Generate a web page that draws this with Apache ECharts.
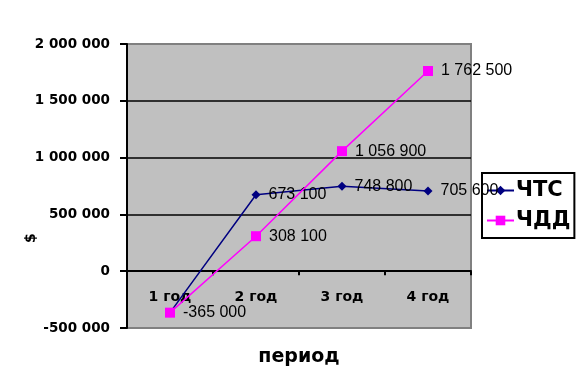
<!DOCTYPE html>
<html>
<head>
<meta charset="utf-8">
<script src="https://cdn.jsdelivr.net/npm/echarts@6/dist/echarts.min.js"></script>
<style>html,body{margin:0;padding:0;background:#fff}#c{width:576px;height:375px}</style>
</head>
<body>
<div id="c"></div>
<script>
const categories = ['1 год', '2 год', '3 год', '4 год'];
const chtsValues = [-365000, 673100, 748800, 705600];
const chddValues = [-365000, 308100, 1056900, 1762500];
const seriesNames = ['ЧТС', 'ЧДД'];
const yTicks = { min: -500000, max: 2000000, interval: 500000 };

function fmt(v) {
  const s = Math.abs(v).toString().replace(/\B(?=(\d{3})+(?!\d))/g, ' ');
  return (v < 0 ? '-' : '') + s;
}

const gridTop = 44, gridBottom = 47, H = 375;
const plotH = H - gridTop - gridBottom;
const zeroOffset = -plotH * (0 - yTicks.min) / (yTicks.max - yTicks.min);

// hide a duplicate label where both series share the same point
const chtsData = chtsValues.map((v, i) => v === chddValues[i] ? { value: v, label: { show: false } } : v);

const chart = echarts.init(document.getElementById('c'), null, { renderer: 'canvas' });
const labelStyle = {
  show: true, position: 'right', distance: 8,
  formatter: p => fmt(p.value),
  color: '#000', fontFamily: 'Liberation Sans, Arial', fontSize: 16
};
chart.setOption({
  animation: false,
  backgroundColor: '#fff',
  grid: { left: 127, top: gridTop, right: 105, bottom: gridBottom, show: true,
    containLabel: false, outerBoundsMode: 'none',
    backgroundColor: '#C0C0C0', borderColor: '#808080', borderWidth: 2 },
  xAxis: {
    type: 'category', data: categories, boundaryGap: true,
    position: 'bottom', offset: zeroOffset,
    name: 'период', nameLocation: 'middle', nameGap: 76,
    nameTextStyle: { fontFamily: 'DejaVu Sans', fontWeight: 'bold', fontSize: 19, color: '#000' },
    axisLine: { onZero: false, lineStyle: { color: '#000', width: 2 } },
    axisTick: { show: true, length: 4, inside: false, lineStyle: { color: '#000', width: 2 } },
    axisLabel: { margin: 19, fontFamily: 'DejaVu Sans', fontWeight: 'bold', fontSize: 14, color: '#000' }
  },
  yAxis: {
    type: 'value', min: yTicks.min, max: yTicks.max, interval: yTicks.interval,
    axisLine: { show: true, onZero: false, lineStyle: { color: '#000', width: 2 } },
    axisTick: { show: true, length: 7, lineStyle: { color: '#000', width: 2 } },
    axisLabel: { margin: 17, formatter: v => fmt(v), fontFamily: 'DejaVu Sans', fontWeight: 'bold', fontSize: 13.5, color: '#000' },
    splitLine: { show: true, showMinLine: false, showMaxLine: false, lineStyle: { color: '#000', width: 1.5 } }
  },
  legend: {
    orient: 'vertical', left: 482, top: 173, width: 88, z: 1,
    padding: [7, 4, 7, 4], itemGap: 9, itemWidth: 27, itemHeight: 12,
    borderColor: '#000', borderWidth: 2, backgroundColor: 'transparent',
    textStyle: { fontFamily: 'DejaVu Sans', fontWeight: 'bold', fontSize: 21, color: '#000', padding: [0, 0, 0, -3] },
    data: seriesNames
  },
  graphic: [{
    type: 'text', x: 24, y: 243, rotation: Math.PI / 2,
    style: { text: '$', font: 'bold 14px DejaVu Sans', fill: '#000' }
  }],
  series: [
    { name: seriesNames[0], type: 'line', data: chtsData,
      symbol: 'diamond', symbolSize: 9, z: 3,
      itemStyle: { color: '#000080' }, lineStyle: { color: '#000080', width: 1.5 },
      label: labelStyle },
    { name: seriesNames[1], type: 'line', data: chddValues,
      symbol: 'rect', symbolSize: 10, z: 4,
      itemStyle: { color: '#FF00FF' }, lineStyle: { color: '#FF00FF', width: 1.5 },
      label: labelStyle }
  ]
});
</script>
</body>
</html>
